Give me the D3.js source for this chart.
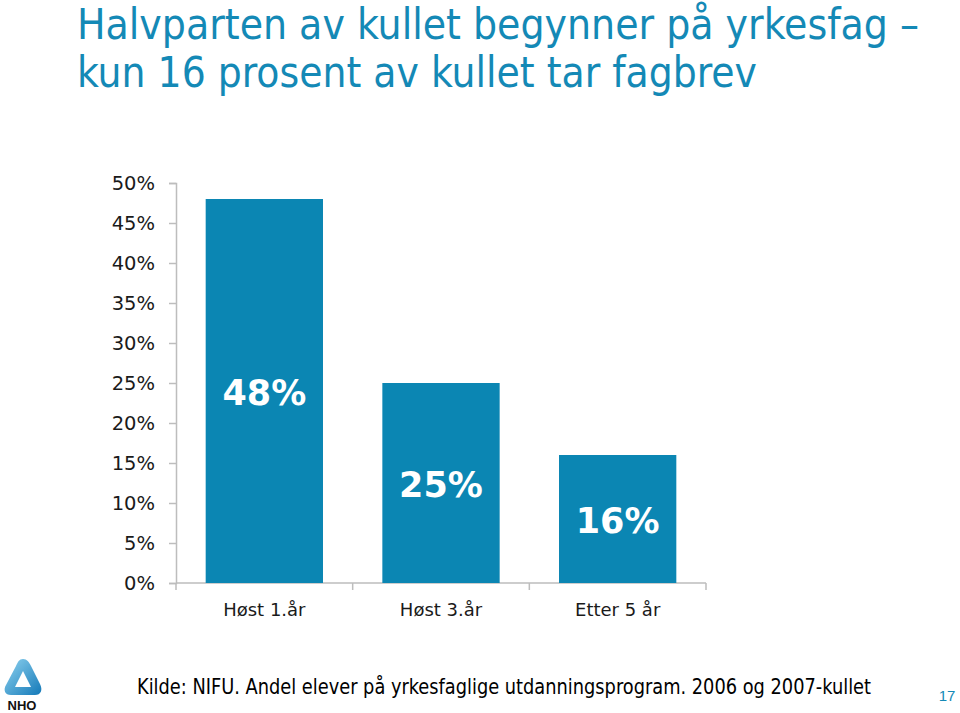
<!DOCTYPE html>
<html><head><meta charset="utf-8">
<script src="https://cdn.jsdelivr.net/npm/d3@7"></script>
<style>body{margin:0;background:#fff}svg{display:block}</style>
</head><body>
<svg id="c" width="960" height="713"></svg>
<script>
const categories = ["Høst 1.år", "Høst 3.år", "Etter 5 år"];
const values = [0.48, 0.25, 0.16];
const valueLabels = ["48%", "25%", "16%"];
const yTicks = [0, 0.05, 0.10, 0.15, 0.20, 0.25, 0.30, 0.35, 0.40, 0.45, 0.50];
const titleLines = ["Halvparten av kullet begynner på yrkesfag –", "kun 16 prosent av kullet tar fagbrev"];
const sourceText = "Kilde: NIFU. Andel elever på yrkesfaglige utdanningsprogram. 2006 og 2007-kullet";
const pageNumber = "17";

const svg = d3.select("#c");
const blue = "#0b86b3";
const titleBlue = "#1489b6";
const axisGray = "#bdbdbd";
const font = "Verdana, 'DejaVu Sans', sans-serif";

// Title
svg.append("text").attr("x", 77).attr("y", 39)
  .attr("font-family", "'Liberation Sans Narrow', 'DejaVu Sans Condensed', sans-serif")
  .attr("font-size", 42).attr("fill", titleBlue)
  .attr("textLength", 842).attr("lengthAdjust", "spacingAndGlyphs")
  .text(titleLines[0]);
svg.append("text").attr("x", 77).attr("y", 87)
  .attr("font-family", "'Liberation Sans Narrow', 'DejaVu Sans Condensed', sans-serif")
  .attr("font-size", 42).attr("fill", titleBlue)
  .attr("textLength", 680).attr("lengthAdjust", "spacingAndGlyphs")
  .text(titleLines[1]);

const x0 = 176, x1 = 706, yTop = 183, yBot = 583;
const x = d3.scaleBand().domain(categories).range([x0, x1]).paddingInner(0.336).paddingOuter(0.168);
const y = d3.scaleLinear().domain([0, 0.5]).range([yBot, yTop]);

// Y axis
const yAxis = d3.axisLeft(y).tickValues(yTicks).tickFormat(d3.format(".0%")).tickSize(7).tickPadding(14);
const gy = svg.append("g").attr("transform", `translate(${x0},0)`).call(yAxis);
gy.selectAll("path,line").attr("stroke", axisGray).attr("stroke-width", 1.5);
gy.selectAll("text").attr("font-family", font).attr("font-size", 19.5).attr("fill", "#1a1a1a");

// X axis
const gx = svg.append("g").attr("transform", `translate(0,${yBot})`);
gx.append("line").attr("x1", x0).attr("x2", x1).attr("stroke", axisGray).attr("stroke-width", 1.5);
const bounds = d3.range(categories.length + 1).map(i => x0 + i * (x1 - x0) / categories.length);
gx.selectAll("line.tk").data(bounds).join("line").attr("class", "tk")
  .attr("x1", d => d).attr("x2", d => d).attr("y1", 0).attr("y2", 7)
  .attr("stroke", axisGray).attr("stroke-width", 1.5);
gx.selectAll("text").data(categories).join("text")
  .attr("x", d => x(d) + x.bandwidth() / 2).attr("y", 33)
  .attr("text-anchor", "middle").attr("font-family", font).attr("font-size", 18)
  .attr("fill", "#1a1a1a").text(d => d);

// Bars
svg.selectAll("rect.bar").data(values).join("rect").attr("class", "bar")
  .attr("x", (d, i) => x(categories[i])).attr("width", x.bandwidth())
  .attr("y", d => y(d)).attr("height", d => yBot - y(d)).attr("fill", blue);

// Value labels
svg.selectAll("text.val").data(values).join("text").attr("class", "val")
  .attr("x", (d, i) => x(categories[i]) + x.bandwidth() / 2)
  .attr("y", d => (y(d) + yBot) / 2 + 14)
  .attr("text-anchor", "middle").attr("font-family", font).attr("font-weight", "bold")
  .attr("font-size", 35).attr("fill", "#fff").text((d, i) => valueLabels[i]);

// Source
svg.append("text").attr("x", 137).attr("y", 694)
  .attr("font-family", "'Liberation Sans Narrow', 'DejaVu Sans Condensed', sans-serif")
  .attr("font-size", 21).attr("fill", "#000")
  .attr("textLength", 734).attr("lengthAdjust", "spacingAndGlyphs")
  .text(sourceText);

// Page number
svg.append("text").attr("x", 947).attr("y", 701).attr("text-anchor", "middle")
  .attr("font-family", "'Liberation Sans Narrow', sans-serif").attr("font-size", 15)
  .attr("fill", titleBlue).text(pageNumber);

// NHO logo
const grad = svg.append("defs").append("linearGradient").attr("id", "lg").attr("x1", 0).attr("y1", 0).attr("x2", 1).attr("y2", 1);
grad.append("stop").attr("offset", 0).attr("stop-color", "#8fd3f0");
grad.append("stop").attr("offset", 1).attr("stop-color", "#1479b8");
const logo = svg.append("g").attr("transform", "translate(3,658)");
logo.append("path")
  .attr("d", "M20,1 C24,1 26,4 28,8 L37,26 C40,32 38,37 32,37 L8,37 C2,37 0,32 3,27 L13,8 C15,4 16,1 20,1 Z M20,13 L12,29 L28,29 Z")
  .attr("fill", "url(#lg)").attr("fill-rule", "evenodd");
logo.append("text").attr("x", 19).attr("y", 52).attr("text-anchor", "middle")
  .attr("font-family", "'Liberation Sans', Arial, sans-serif").attr("font-weight", "bold")
  .attr("font-size", 13).attr("fill", "#111").text("NHO");
</script>
</body></html>
